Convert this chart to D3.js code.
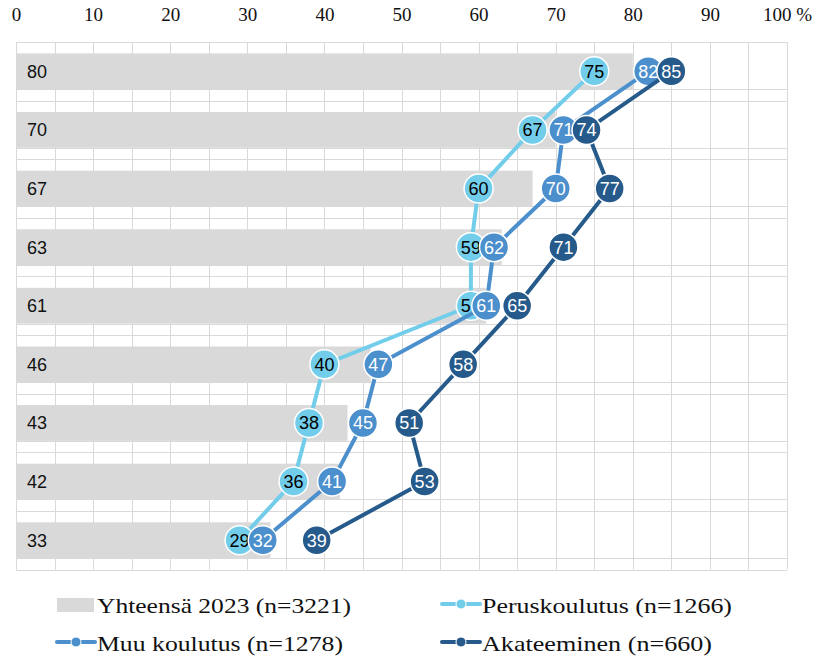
<html>
<head>
<script src="https://cdn.jsdelivr.net/npm/d3@7"></script>
<style>
  body { margin: 0; background: #fff; }
  svg { display: block; }
</style>
</head>
<body>
<script>
// rows of the chart (labels on the left are the totals)
const rows = ['r1', 'r2', 'r3', 'r4', 'r5', 'r6', 'r7', 'r8', 'r9'];
const total2023 = [80, 70, 67, 63, 61, 46, 43, 42, 33];
const peruskoulutus = [75, 67, 60, 59, 59, 40, 38, 36, 29];
const muuKoulutus = [82, 71, 70, 62, 61, 47, 45, 41, 32];
const akateeminen = [85, 74, 77, 71, 65, 58, 51, 53, 39];
const xTicks = [0, 10, 20, 30, 40, 50, 60, 70, 80, 90, 100];

const width = 817, height = 656;
const plot = {left: 16, right: 787, top: 42, bottom: 569.5};

const svg = d3.select('body').append('svg')
    .attr('width', width)
    .attr('height', height);

const x = d3.scaleLinear().domain([0, 100]).range([plot.left, plot.right]);
const y = d3.scaleBand().domain(rows).range([plot.top, plot.bottom])
    .paddingInner(0.39).paddingOuter(0.195);

const grid = svg.append('g').attr('stroke', '#d9d9d9').attr('stroke-width', 1);

// vertical gridlines every 5
grid.selectAll('line.v')
    .data(d3.range(0, 101, 5))
    .enter().append('line')
    .attr('x1', d => Math.round(x(d)) + 0.5)
    .attr('x2', d => Math.round(x(d)) + 0.5)
    .attr('y1', plot.top)
    .attr('y2', plot.bottom);

// horizontal lines at row boundaries and under the bars
const bounds = rows.map(r => y(r) - y.step() * y.paddingOuter()).concat([plot.bottom]);
grid.selectAll('line.h')
    .data(bounds)
    .enter().append('line')
    .attr('x1', plot.left).attr('x2', plot.right)
    .attr('y1', d => Math.round(d) + 0.5)
    .attr('y2', d => Math.round(d) + 0.5);
grid.selectAll('line.h2')
    .data(rows)
    .enter().append('line')
    .attr('x1', plot.left).attr('x2', plot.right)
    .attr('y1', d => Math.round(y(d) + y.bandwidth()) + 0.5)
    .attr('y2', d => Math.round(y(d) + y.bandwidth()) + 0.5);

// top axis
const xAxis = d3.axisTop(x)
    .tickValues(xTicks)
    .tickSize(0)
    .tickFormat(d => d === 100 ? '100 %' : d);
const ax = svg.append('g')
    .attr('transform', 'translate(0,24)')
    .call(xAxis);
ax.select('.domain').remove();
ax.selectAll('text')
    .attr('font-family', '"Liberation Serif", "DejaVu Serif", serif')
    .attr('font-size', 19)
    .attr('fill', '#111');

// bars
svg.append('g').selectAll('rect')
    .data(rows)
    .enter().append('rect')
    .attr('x', x(0))
    .attr('y', d => y(d))
    .attr('width', (d, i) => x(total2023[i]) - x(0))
    .attr('height', y.bandwidth())
    .attr('fill', '#d9d9d9');

svg.append('g').selectAll('text')
    .data(rows)
    .enter().append('text')
    .attr('x', 27)
    .attr('y', d => y(d) + y.bandwidth() / 2)
    .attr('dy', '0.36em')
    .attr('font-family', '"Liberation Sans", Arial, sans-serif')
    .attr('font-size', 18)
    .attr('fill', '#111')
    .text((d, i) => total2023[i]);

// line series
const series = [
  {name: 'Peruskoulutus (n=1266)', values: peruskoulutus, color: '#72cdea', text: '#000'},
  {name: 'Muu koulutus (n=1278)', values: muuKoulutus, color: '#4c8fcd', text: '#fff'},
  {name: 'Akateeminen (n=660)', values: akateeminen, color: '#255a8b', text: '#fff'}
];

const line = d3.line()
    .x(d => x(d.v))
    .y(d => y(d.r) + y.bandwidth() / 2);

series.forEach(s => {
  const pts = rows.map((r, i) => ({r: r, v: s.values[i]}));
  const g = svg.append('g');
  g.append('path')
      .datum(pts)
      .attr('d', line)
      .attr('fill', 'none')
      .attr('stroke', s.color)
      .attr('stroke-width', 4);
  const pt = g.selectAll('g.pt')
      .data(pts)
      .enter().append('g')
      .attr('transform', d => 'translate(' + x(d.v) + ',' + (y(d.r) + y.bandwidth() / 2) + ')');
  pt.append('circle')
      .attr('r', 14.5)
      .attr('fill', s.color)
      .attr('stroke', '#fff')
      .attr('stroke-width', 1.5);
  pt.append('text')
      .attr('text-anchor', 'middle')
      .attr('dy', '0.36em')
      .attr('font-family', '"Liberation Sans", Arial, sans-serif')
      .attr('font-size', 18)
      .attr('fill', s.text)
      .text(d => d.v);
});

// legend
const legend = [
  {name: 'Yhteensä 2023 (n=3221)', type: 'bar', color: '#d9d9d9', lx: 57, ly: 613, w: 254},
  {name: series[0].name, type: 'line', color: series[0].color, lx: 442, ly: 613, w: 250},
  {name: series[1].name, type: 'line', color: series[1].color, lx: 57, ly: 651, w: 246},
  {name: series[2].name, type: 'line', color: series[2].color, lx: 442, ly: 651, w: 230}
];
const lg = svg.append('g').selectAll('g')
    .data(legend)
    .enter().append('g')
    .attr('transform', d => 'translate(' + d.lx + ',' + d.ly + ')');
lg.filter(d => d.type === 'bar').append('rect')
    .attr('x', 0).attr('y', -15).attr('width', 37).attr('height', 14)
    .attr('fill', d => d.color);
lg.filter(d => d.type === 'line').append('line')
    .attr('x1', 0).attr('x2', 38).attr('y1', -9).attr('y2', -9)
    .attr('stroke', d => d.color).attr('stroke-width', 4)
    .attr('stroke-linecap', 'round');
lg.filter(d => d.type === 'line').append('circle')
    .attr('cx', 19).attr('cy', -9).attr('r', 5)
    .attr('fill', d => d.color)
    .attr('stroke', '#fff')
    .attr('stroke-width', 1);
lg.append('text')
    .attr('x', 40)
    .attr('font-family', '"Liberation Serif", "DejaVu Serif", serif')
    .attr('font-size', 22)
    .attr('fill', '#111')
    .attr('textLength', d => d.w)
    .attr('lengthAdjust', 'spacingAndGlyphs')
    .text(d => d.name);
</script>
</body>
</html>
